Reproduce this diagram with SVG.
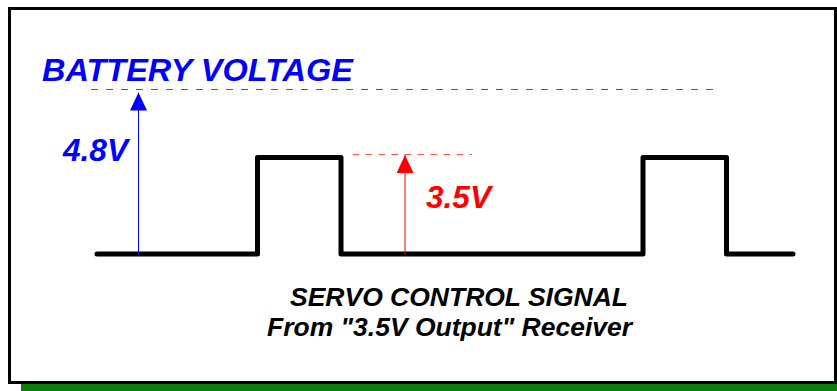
<svg xmlns="http://www.w3.org/2000/svg" width="837" height="391" viewBox="0 0 837 391">
<style>
.lbl{font-family:"Liberation Sans",Arial,sans-serif;font-weight:bold;font-style:italic;}
.blue{fill:#0000ff;}
.red{fill:#ff0000;}
.blk{fill:#000000;}
.sig{fill:none;stroke:#000;stroke-width:5;stroke-linecap:round;stroke-linejoin:round;}
</style>
<defs>
<marker id="ahBlue" markerUnits="userSpaceOnUse" markerWidth="18" markerHeight="17" viewBox="0 0 18 17" refX="18" refY="8.5" orient="auto">
<path d="M0,0 L18,8.5 L0,17 Z" fill="#0000ff"/>
</marker>
<marker id="ahRed" markerUnits="userSpaceOnUse" markerWidth="18" markerHeight="17" viewBox="0 0 18 17" refX="18" refY="8.5" orient="auto">
<path d="M0,0 L18,8.5 L0,17 Z" fill="#ff0000"/>
</marker>
</defs>
<rect x="0" y="0" width="837" height="391" fill="#ffffff"/>
<g id="frame">
<rect x="21" y="384" width="816" height="7" fill="#0b7f0b"/>
<rect x="9.5" y="8.5" width="826" height="374" fill="#ffffff" stroke="#000" stroke-width="3"/>
</g>
<g id="signal">
<path class="sig" d="M97,254 H257.5 V157.5 H341 V254 H643 V157.5 H726.5 V254 H793"/>
</g>
<g id="connectors">
<line x1="91" y1="89.5" x2="721" y2="89.5" stroke="#4848ff" stroke-width="1" stroke-dasharray="7 8"/>
<line x1="352.5" y1="154.5" x2="472" y2="154.5" stroke="#ff5555" stroke-width="1" stroke-dasharray="6.5 6.5"/>
<line x1="138.5" y1="254" x2="138.5" y2="92.5" stroke="#0000ff" stroke-width="1" marker-end="url(#ahBlue)"/>
<line x1="405" y1="254" x2="405" y2="155" stroke="#ff0000" stroke-width="1" marker-end="url(#ahRed)"/>
</g>
<g id="battery-label">
<text class="lbl blue" x="42" y="81" font-size="32" textLength="311" lengthAdjust="spacingAndGlyphs">BATTERY VOLTAGE</text>
</g>
<g id="v48-label">
<text class="lbl blue" x="63" y="160.5" font-size="31" textLength="65" lengthAdjust="spacingAndGlyphs">4.8V</text>
</g>
<g id="v35-label">
<text class="lbl red" x="426" y="207.5" font-size="31" textLength="65" lengthAdjust="spacingAndGlyphs">3.5V</text>
</g>
<g id="caption">
<text class="lbl blk" x="290" y="305.5" font-size="26.5" textLength="338" lengthAdjust="spacingAndGlyphs">SERVO CONTROL SIGNAL</text>
<text class="lbl blk" x="267" y="336" font-size="26.5" textLength="365" lengthAdjust="spacingAndGlyphs">From "3.5V Output" Receiver</text>
</g>
</svg>
